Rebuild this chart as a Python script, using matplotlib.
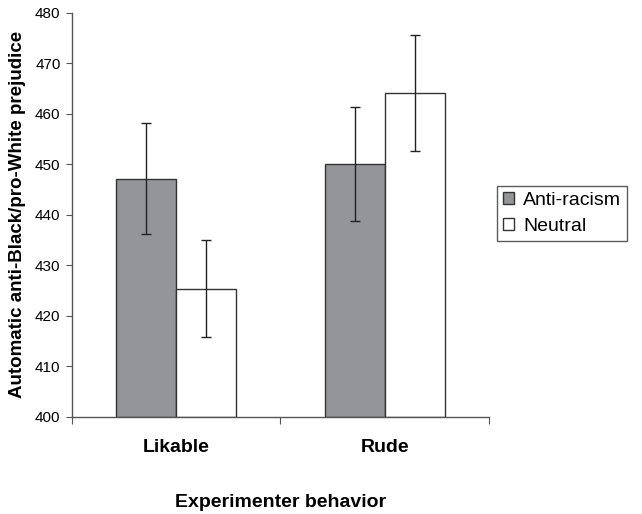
import numpy as np
import matplotlib
matplotlib.use('Agg')
import matplotlib.pyplot as plt

plt.rcParams['font.family'] = ['Liberation Sans', 'DejaVu Sans']

# data
categories = ['Likable', 'Rude']
anti_racism = [447.1, 450.1]
anti_racism_err = [11.0, 11.3]
neutral = [425.3, 464.1]
neutral_err = [9.6, 11.5]
y_ticks = [400, 410, 420, 430, 440, 450, 460, 470, 480]

fig = plt.figure(figsize=(6.42, 5.14), dpi=100)
ax = fig.add_axes([0.1117, 0.1893, 0.650, 0.786])

x = np.arange(len(categories))
w = 0.287
ax.bar(x - w / 2, np.array(anti_racism) - 400, w, bottom=400, color='#949598',
       edgecolor='#333333', linewidth=1, label='Anti-racism', zorder=2)
ax.bar(x + w / 2, np.array(neutral) - 400, w, bottom=400, color='white',
       edgecolor='#333333', linewidth=1, label='Neutral', zorder=2)
ax.errorbar(x - w / 2, anti_racism, yerr=anti_racism_err, fmt='none',
            ecolor='#222222', elinewidth=1, capsize=3.6, capthick=1, zorder=3)
ax.errorbar(x + w / 2, neutral, yerr=neutral_err, fmt='none',
            ecolor='#222222', elinewidth=1, capsize=3.6, capthick=1, zorder=3)

ax.set_xlim(-0.5, 1.5)
ax.set_ylim(400, 480)
ax.set_yticks(y_ticks)
ax.set_yticklabels([str(t) for t in y_ticks], fontsize=11)
ax.set_xticks([-0.5, 0.5, 1.5], minor=False)
ax.set_xticklabels([])
ax.set_xticks(x, minor=True)
ax.set_xticklabels(categories, minor=True, fontsize=14, fontweight='bold')
ax.tick_params(axis='x', which='minor', length=0, pad=16)
ax.tick_params(axis='x', which='major', direction='out', length=5, color='#555555')
ax.tick_params(axis='y', direction='out', length=4, color='#555555', pad=4)

for s in ['top', 'right']:
    ax.spines[s].set_visible(False)
for s in ['left', 'bottom']:
    ax.spines[s].set_color('#555555')
    ax.spines[s].set_linewidth(1)

ax.set_ylabel('Automatic anti-Black/pro-White prejudice', fontsize=13.5,
              fontweight='bold', va='center')
ax.yaxis.set_label_coords(-0.1310, 0.5)
ax.set_xlabel('Experimenter behavior', fontsize=14, fontweight='bold', va='center')
ax.xaxis.set_label_coords(0.5, -0.2136)

leg = fig.legend(loc='upper left', bbox_to_anchor=(0.774, 0.638), fontsize=14,
                 frameon=True, fancybox=False, edgecolor='#333333',
                 handlelength=0.6, handleheight=0.6, handletextpad=0.45,
                 borderpad=0.3, labelspacing=0.45, borderaxespad=0)
leg.get_frame().set_linewidth(1)

fig.savefig('out.png', dpi=100)
